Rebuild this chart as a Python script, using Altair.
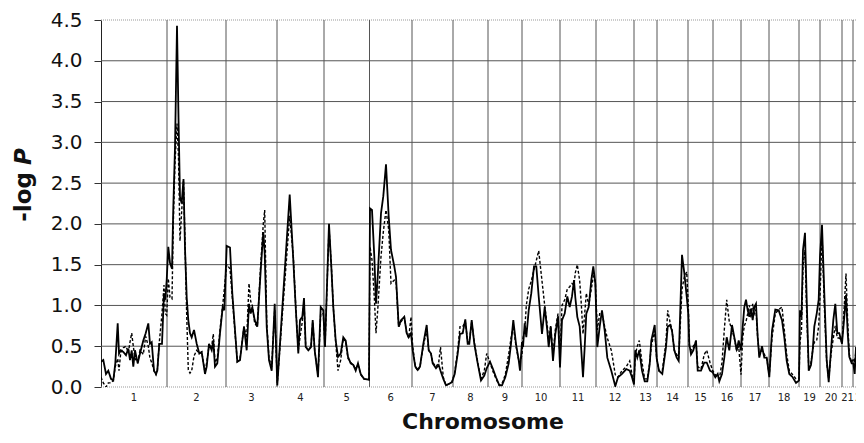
import altair as alt
import pandas as pd

# ---------------- data ----------------
chrom_names = [str(i) for i in range(1, 23)]
# chromosome start / end along the genome-wide map axis (relative map units)
chrom_start = [0, 66, 125, 176, 223, 268.5, 311, 352, 387, 421, 459, 495,
               533, 556, 587, 612, 640, 668, 698, 719, 741, 752]
chrom_end = chrom_start[1:] + [770]
visible_end = 755

pos = [
    # chr1
    0, 2.3, 5, 7.3, 10, 12.3, 14.3, 16.7, 18, 19.7, 22.3, 25, 27.3, 29, 30.7, 32.3,
    34, 36.7, 39, 42.3, 44.7, 47.3, 49, 50.7, 53, 55, 56.3, 58.3, 61, 63, 64.3, 65.7,
    # chr2
    67.3, 69, 71, 72.3, 74, 76, 77.5, 79, 80.7, 82.5, 84, 85.7, 87.3, 89, 90.7, 93,
    95.7, 98.3, 100.7, 104, 105.7, 108, 110.7, 112.3, 114, 116.3, 119, 121.7, 123.3,
    # chr3
    125.7, 129, 131.3, 136.3, 139, 143, 145.7, 148, 149.7, 151.3, 153.7, 156.3, 159.7,
    162.3, 163.7, 165.7, 168, 170.7, 173.7,
    # chr4
    176.3, 188.7, 192.3, 194.7, 197.3, 199, 201.3, 203, 204.7, 207.3, 210, 211.7,
    213.7, 217, 219.7, 222.3,
    # chr5
    224, 228, 230.3, 232.3, 234.7, 237, 239.7, 242.3, 244.7, 247, 249.7, 252.3, 254.7,
    257, 259.7, 263, 268,
    # chr6
    269, 271, 273.3, 275, 276.7, 280, 282.3, 285, 287.7, 290, 293.3, 295, 297.7, 300,
    303.3, 305.7, 307.7, 310,
    # chr7
    311.7, 314.3, 316.7, 319, 322.3, 325.7, 327.7, 330, 331.7, 335, 337.7, 339.5,
    342.3, 345, 348.3, 351,
    # chr8
    353.7, 356.7, 359, 361.7, 364.3, 366.7, 368.3, 370.7, 373.3, 376.7, 380, 383.3, 385.7,
    # chr9
    389, 391.7, 395, 398.3, 401, 404.3, 407.7, 410, 412.3, 415, 417.7, 419,
    # chr10
    421, 422, 423.7, 425.3, 427.7, 430.3, 433, 435.3, 437.7, 441, 443.7, 446.3, 447.7,
    449.7, 452, 454.3, 457, 459,
    # chr11
    461, 463.7, 466.3, 468.7, 471, 473, 474.3, 476.3, 478.7, 480.3, 482, 483.7, 485.3,
    487.7, 490.3, 492.3, 494.3,
    # chr12
    496.3, 498.7, 501, 503.7, 506.3, 510.3, 514.3, 517, 521, 525.3, 528.7, 531, 533,
    # chr13
    534.3, 536.3, 538.3, 541, 543.7, 546.3, 548.7, 550.3, 553.7, 555.7,
    # chr14
    558, 561.3, 565, 566.7, 569, 571, 573.3, 575.7, 577.7, 581, 583.3, 585.7, 587.3,
    # chr15
    588.3, 590, 592.3, 595, 596.7, 600, 603.3, 605.7, 609, 611.7,
    # chr16
    614.3, 616.7, 618.3, 621, 623.3, 625.7, 628.3, 631, 633.3, 635.7, 637.7,
    # chr17
    640, 641.7, 643.3, 645, 646.7, 648.3, 650, 651.7, 653.3, 655, 656.7, 658.3, 661,
    663.3, 665.7, 668.3,
    # chr18
    671, 674.3, 677.7, 681, 683.3, 685.7, 688.3, 691.7, 695,
    # chr19
    698, 699, 700.5, 702, 704, 705.7, 707.7, 710, 711.7, 713.3, 715.7, 717.7,
    # chr20
    719, 721, 723.3, 725.7, 727.7, 730, 732.3, 734.3, 736.3, 738.3, 741,
    # chr21
    743.3, 745, 746.7, 748.3, 750.7,
    # chr22
    752.3, 753.7, 755, 756.7, 758.3, 760, 761.7, 763.3, 765,
]

solid_logp = [
    .31, .33, .16, .20, .10, .08, .29, .78, .41, .45, .43, .39, .47, .33, .45, .25,
    .45, .29, .41, .57, .66, .78, .53, .55, .20, .16, .20, .53, .53, 1.15, 1.07, 1.31,
    1.72, 1.52, 1.45, 2.2, 2.94, 4.43, 3.3, 2.33, 2.25, 2.55, 1.7, 1.1, .82, .66, .61, .70,
    .53, .41, .43, .16, .25, .53, .45, .57, .25, .29, .66, .98, .94,
    1.73, 1.71, 1.15, .31, .33, .74, .45, 1.02, .90, .98, .82, .74, 1.43,
    1.9, 1.64, .74, .33, .20, 1.02,
    .02, 2.36, 1.56, .98, .41, .82, .86, 1.09, .49, .45, .49, .82,
    .45, .12, .98, .94,
    .49, 2.0, 1.48, .98, .57, .37, .41, .61, .57, .37, .29, .27, .20,
    .29, .16, .10, .09,
    2.19, 2.17, 1.6, 1.02, 1.35, 2.13, 2.34, 2.73, 2.09, 1.68, 1.48, 1.35, .74, .82,
    .86, .66, .61, .66,
    .45, .25, .21, .25, .53, .76, .45, .41, .29, .23, .27, .20,
    .10, .02, .04, .06,
    .16, .41, .65, .66, .83, .53, .53, .82, .53, .29, .08, .14, .23,
    .31, .23, .12, .02, .02, .12, .29, .53, .82, .53, .33, .20,
    .55, .49, .78, .61, .94, 1.15, 1.48, 1.48, 1.11, .65, .98, .69, .49,
    .74, .32, .65, .86, .24,
    .82, .90, 1.11, .98, 1.11, 1.31, 1.1, .86, .74, .45, .12, .49, .90,
    .98, 1.31, 1.48, 1.27,
    .49, .74, .94, .69, .36, .20, .01, .12, .16, .22, .20, .12, .03,
    .45, .36, .45, .20, .07, .07, .28, .57, .76, .35,
    .20, .16, .49, .74, .76, .69, .45, .36, .32, 1.62, 1.4, 1.11, .90,
    .53, .40, .45, .57, .20, .20, .30, .30, .20, .18,
    .12, .16, .07, .16, .36, .61, .45, .76, .61, .45, .57,
    .45, .74, .98, 1.07, .94, .86, .96, .82, .98, 1.02, .61, .36, .50,
    .36, .36, .12,
    .69, .95, .94, .82, .61, .32, .16, .12, .05,
    .08, .94, .86, 1.68, 1.89, 1.07, .20, .27, .45, .74, .90, 1.07,
    1.6, 1.99, 1.15, .33, .06, .45, .82, 1.02, .66, .66, .53,
    .86, 1.13, .66, .37, .29,
    .29, .16, .49, .37, .53, .41, .49, .57, .5,
]

dashed_logp = [
    .12, .05, 0, .05, .05, .08, .25, .35, .2, .42, .48, .5, .42, .55, .66, .5,
    .35, .3, .45, .4, .62, .5, .35, .3, .2, .15, .2, .55, .9, 1.25, .9, .88,
    1.33, 1.1, 1.08, 2.0, 2.75, 3.23, 2.82, 1.79, 2.16, 2.53, 1.79, .88, .21, .17, .2, .38,
    .45, .41, .43, .18, .3, .5, .5, .65, .3, .35, .7, 1.0, 1.2,
    1.5, 1.45, 1.1, .31, .35, .74, .6, 1.27, 1.05, 1.0, .78, .74, 1.5,
    2.0, 2.17, .8, .35, .25, .95,
    .05, 2.1, 1.6, 1.0, .45, .61, .8, 1.05, .5, .45, .5, .8,
    .45, .15, .9, .9,
    .49, 1.95, 1.5, .98, .55, .2, .33, .6, .55, .35, .3, .27, .22,
    .28, .15, .1, .09,
    1.72, 1.56, 1.1, .66, .94, 1.6, 1.9, 2.17, 1.93, 1.27, 1.31, 1.3, .74, .8,
    .86, .66, .6, .86,
    .5, .25, .2, .25, .5, .7, .45, .41, .3, .25, .3, .49,
    .12, .02, .04, .06,
    .18, .45, .74, .74, .8, .55, .55, .8, .55, .3, .1, .2, .41,
    .3, .2, .1, .02, .04, .15, .4, .6, .75, .5, .33, .3,
    .4, .6, .69, 1.0, 1.2, 1.3, 1.44, 1.55, 1.67, 1.3, 1.0, .75, .55,
    .75, .4, .7, .9, .35,
    1.0, 1.07, 1.2, 1.23, 1.27, 1.25, 1.4, 1.5, 1.3, 1.02, .65, .9, 1.15,
    1.0, 1.2, 1.36, 1.3,
    .7, .9, .9, .74, .6, .45, .15, .12, .2, .25, .32, .15, .05,
    .4, .5, .57, .3, .1, .1, .3, .5, .69, .35,
    .2, .2, .55, .94, .8, .7, .45, .4, .35, 1.2, 1.35, 1.41, 1.0,
    .5, .45, .5, .55, .25, .22, .4, .45, .3, .2,
    .15, .12, .1, .3, .7, 1.07, .8, .7, .6, .45, .5,
    .15, .6, .75, .8, .9, 1.0, .85, 1.02, .9, .95, .6, .4, .45,
    .4, .35, .15,
    .6, .9, .95, .98, .7, .4, .2, .15, .1,
    .1, .55, .7, 1.48, 1.68, .9, .25, .3, .45, .55, .57, .75,
    1.1, 1.89, 1.0, .3, .1, .4, .6, .75, .6, .6, .55,
    1.0, 1.39, .8, .4, .3,
    .35, .3, .45, .5, .45, .6, .7, .86, .9,
]

y_ticks = [0, 0.5, 1.0, 1.5, 2.0, 2.5, 3.0, 3.5, 4.0, 4.5]

# ---------------- tables ----------------
lines_df = pd.DataFrame({"pos": pos, "solid": solid_logp, "dashed": dashed_logp})
hgrid_df = pd.DataFrame({"v": y_ticks[1:-1]})
edge_df = pd.DataFrame({"v": [y_ticks[0], y_ticks[-1]]})
vgrid_df = pd.DataFrame({"b": chrom_start[1:]})
full = [(s + e) / 2 for s, e in zip(chrom_start, chrom_end)]
# chromosomes whose centre lies inside the visible window are labelled at their
# centre; the last one, which runs past the right edge, is labelled from its start
label_df = pd.DataFrame({
    "x": [m if e <= visible_end else s for m, s, e in zip(full, chrom_start, chrom_end)],
    "name": chrom_names,
    "inside": [e <= visible_end for e in chrom_end],
})

FONT = "DejaVu Sans"
W, H = visible_end, 367
xscale = alt.Scale(domain=[0, visible_end], nice=False, zero=False)
yscale = alt.Scale(domain=[y_ticks[0], y_ticks[-1]], nice=False)
yaxis = alt.Axis(values=y_ticks, format=".1f", title=None, grid=False,
                 labelFont=FONT, labelFontSize=20, labelColor="#111",
                 tickSize=7, tickColor="#333", domainColor="#222",
                 labelPadding=12)


def Y(field):
    return alt.Y(field, type="quantitative", scale=yscale, axis=yaxis)


def X(field):
    return alt.X(field, type="quantitative", scale=xscale, axis=None)


hgrid = alt.Chart(hgrid_df).mark_rule(color="#555", strokeWidth=1).encode(y=Y("v"))
edges = alt.Chart(edge_df).mark_rule(color="#999", strokeWidth=1, strokeDash=[1, 1]).encode(y=Y("v"))
vgrid = alt.Chart(vgrid_df).mark_rule(color="#555", strokeWidth=1).encode(x=X("b"))

dashed = alt.Chart(lines_df).mark_line(
    color="#000", strokeWidth=1.4, strokeDash=[3, 2], clip=True
).encode(x=X("pos"), y=Y("dashed"))
solid = alt.Chart(lines_df).mark_line(
    color="#000", strokeWidth=1.8, clip=True
).encode(x=X("pos"), y=Y("solid"))

chrom_labels = alt.Chart(label_df).transform_filter("datum.inside").mark_text(
    font=FONT, fontSize=10, color="#222", baseline="middle", align="center"
).encode(x=X("x"), y=alt.value(H + 11), text="name:N")
chrom_labels_edge = alt.Chart(label_df).transform_filter("!datum.inside").mark_text(
    font=FONT, fontSize=10, color="#222", baseline="middle", align="left", dx=2
).encode(x=X("x"), y=alt.value(H + 11), text="name:N")

xtitle = alt.Chart(pd.DataFrame({"t": ["Chromosome"]})).mark_text(
    font=FONT, fontSize=22, fontWeight="bold", color="#111", baseline="middle", align="center"
).encode(x=alt.value(382), y=alt.value(H + 35), text="t:N")

ytitle_a = alt.Chart(pd.DataFrame({"t": ["-log"]})).mark_text(
    font=FONT, fontSize=23, fontWeight="bold", color="#111", angle=270,
    baseline="middle", align="right"
).encode(x=alt.value(-77), y=alt.value(152), text="t:N")
ytitle_b = alt.Chart(pd.DataFrame({"t": ["P"]})).mark_text(
    font=FONT, fontSize=23, fontWeight="bold", fontStyle="italic", color="#111", angle=270,
    baseline="middle", align="left"
).encode(x=alt.value(-77), y=alt.value(145), text="t:N")

chart = alt.layer(
    hgrid, edges, vgrid, dashed, solid, chrom_labels, chrom_labels_edge,
    xtitle, ytitle_a, ytitle_b
).properties(
    width=W, height=H,
    autosize=alt.AutoSizeParams(type="none"),
    padding={"left": 93, "top": 12, "right": 0, "bottom": 48},
).configure_view(stroke=None)

chart.save("out.html", embed_options={"renderer": "svg", "actions": False})
